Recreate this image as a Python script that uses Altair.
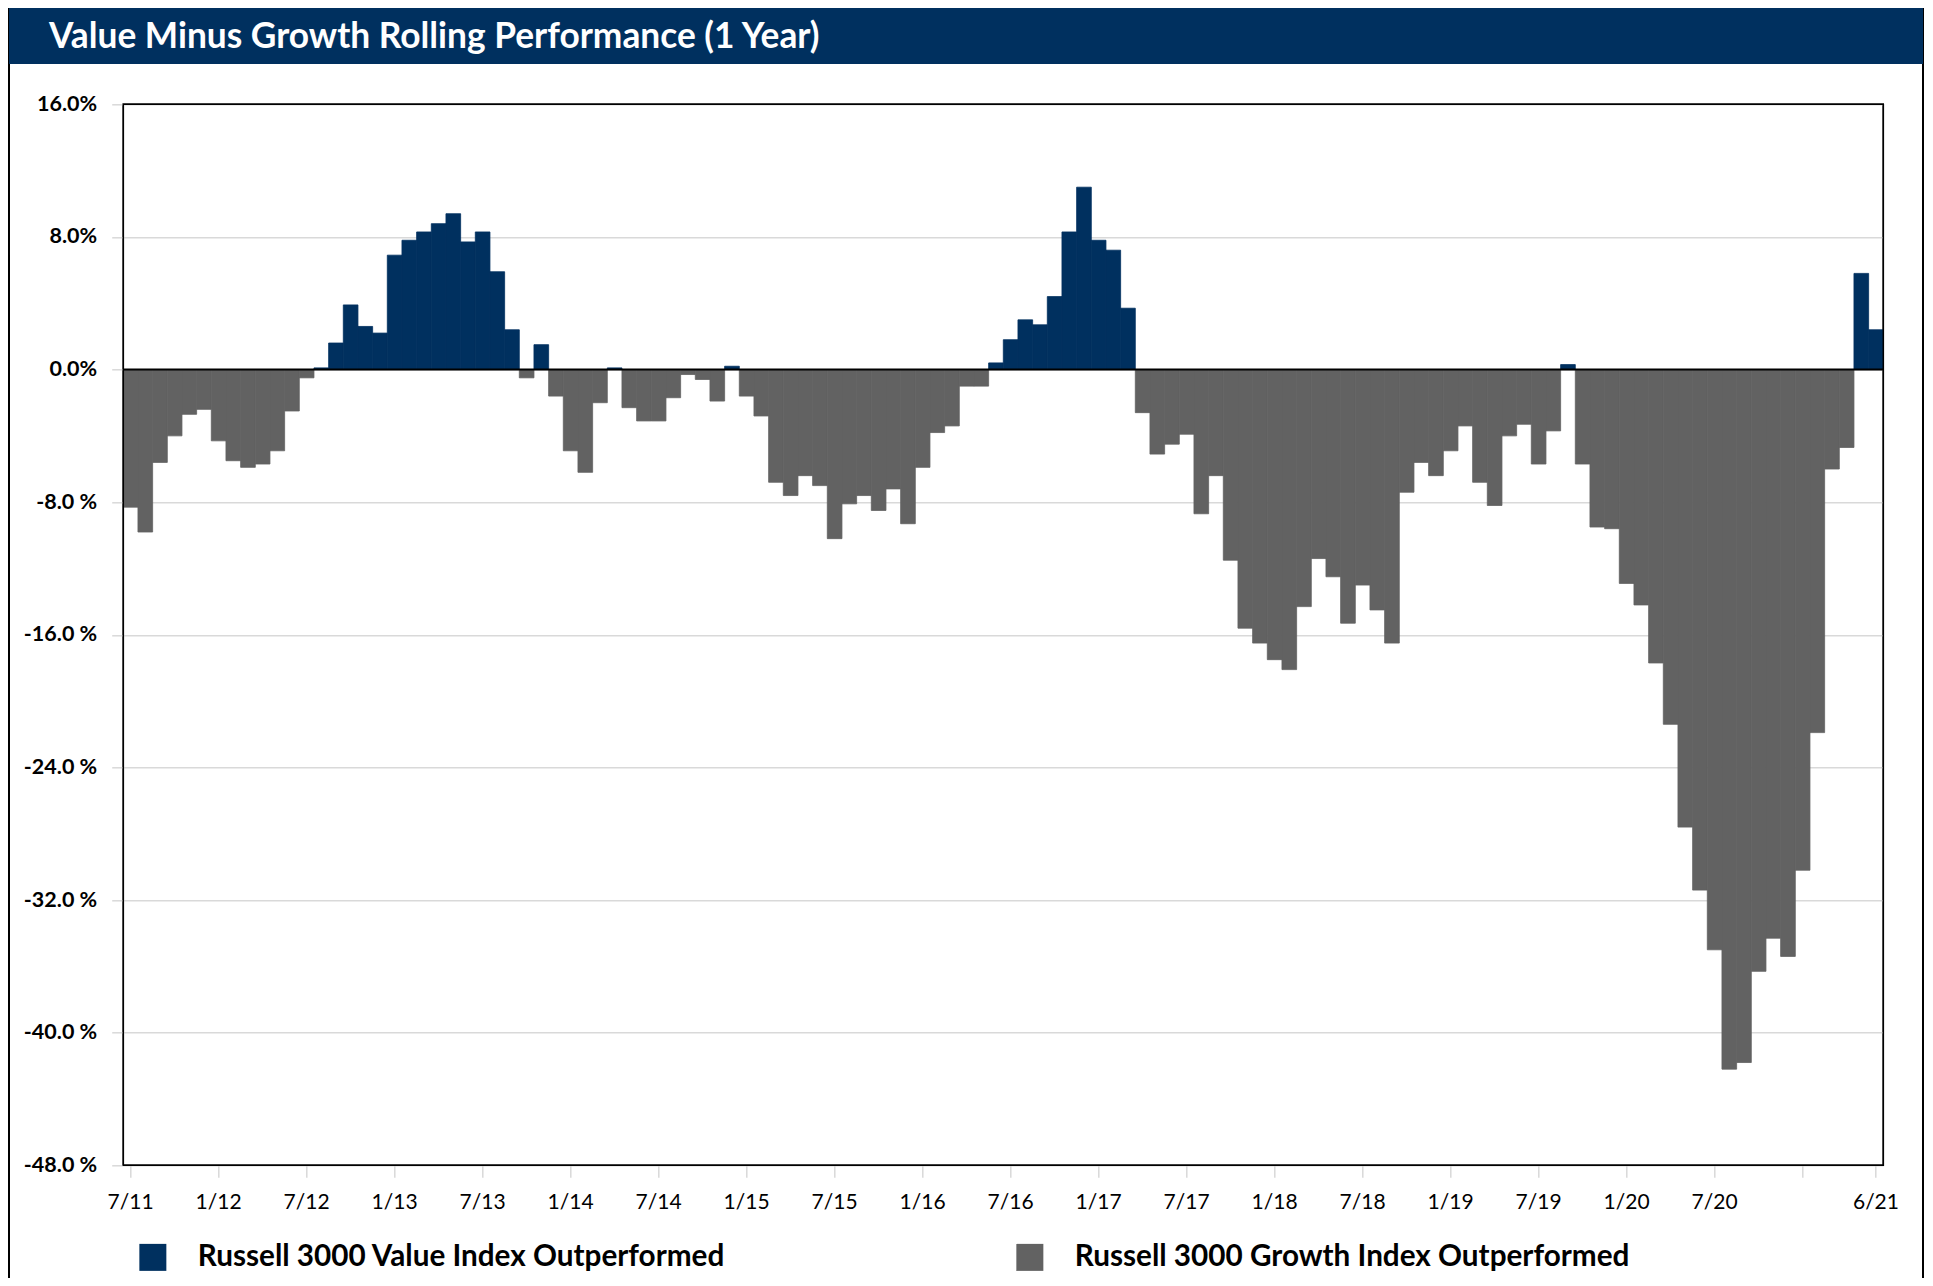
import altair as alt
import pandas as pd

TITLE = "Value Minus Growth Rolling Performance (1 Year)"
VALUE = "Russell 3000 Value Index Outperformed"
GROWTH = "Russell 3000 Growth Index Outperformed"
NAVY = "#00305f"
GRAY = "#626262"
GRID = "#d9d9d9"

# Monthly periods 7/11 ... 6/21
months = [f"{d.month}/{d.year % 100:02d}" for d in pd.date_range("2011-07-01", "2021-06-01", freq="MS")]

# Rolling 1-year value minus growth return (%)
values = [
    -8.3, -9.8, -5.6, -4.0, -2.7, -2.4, -4.3, -5.5, -5.9, -5.7,
    -4.9, -2.5, -0.5, 0.1, 1.6, 3.9, 2.6, 2.2, 6.9, 7.8,
    8.3, 8.8, 9.4, 7.7, 8.3, 5.9, 2.4, -0.5, 1.5, -1.6,
    -4.9, -6.2, -2.0, 0.1, -2.3, -3.1, -3.1, -1.7, -0.3, -0.6,
    -1.9, 0.2, -1.6, -2.8, -6.8, -7.6, -6.4, -7.0, -10.2, -8.1,
    -7.6, -8.5, -7.2, -9.3, -5.9, -3.8, -3.4, -1.0, -1.0, 0.4,
    1.8, 3.0, 2.7, 4.4, 8.3, 11.0, 7.8, 7.2, 3.7, -2.6,
    -5.1, -4.5, -3.9, -8.7, -6.4, -11.5, -15.6, -16.5, -17.5, -18.1,
    -14.3, -11.4, -12.5, -15.3, -13.0, -14.5, -16.5, -7.4, -5.6, -6.4,
    -4.9, -3.4, -6.8, -8.2, -4.0, -3.3, -5.7, -3.7, 0.3, -5.7,
    -9.5, -9.6, -12.9, -14.2, -17.7, -21.4, -27.6, -31.4, -35.0, -42.2,
    -41.8, -36.3, -34.3, -35.4, -30.2, -21.9, -6.0, -4.7, 5.8, 2.4,
]

y_ticks = [16, 8, 0, -8, -16, -24, -32, -40, -48]
x_ticks = months[0::6] + [months[-1]]

df = pd.DataFrame({
    "month": months,
    "value": values,
    "series": [VALUE if v >= 0 else GROWTH for v in values],
})
dummy = pd.DataFrame({"k": [0]})

W, H = 1760, 1061

border = alt.Chart(dummy).mark_rect(filled=False, stroke="black", strokeWidth=2).encode(
    x=alt.value(-114.3), x2=alt.value(1799.7), y=alt.value(-98.3), y2=alt.value(1300)
)
title_bar = alt.Chart(dummy).mark_rect(fill=NAVY).encode(
    x=alt.value(-114.3), x2=alt.value(1799.7), y=alt.value(-98.3), y2=alt.value(-40.3)
)
title_text = alt.Chart(dummy).mark_text(
    text=TITLE, font="Lato", fontWeight="bold", fontSize=35.3, color="white",
    align="left", baseline="middle"
).encode(x=alt.value(-74.3), y=alt.value(-67.3))

color_scale = alt.Scale(domain=[VALUE, GROWTH], range=[NAVY, GRAY])

bars = alt.Chart(df).mark_bar(strokeWidth=0.8).encode(
    x=alt.X(
        "month:N", sort=months,
        scale=alt.Scale(paddingInner=0, paddingOuter=0),
        axis=alt.Axis(
            values=x_ticks, title=None, labelAngle=0, domain=False, grid=False,
            labelExpr="datum.value == '1/21' ? '' : datum.value",
            labelFont="Lato", labelFontSize=21, labelColor="black",
            tickColor=GRID, tickWidth=1.5, tickSize=12, labelPadding=14,
            labelOverlap=False, labelBound=False,
        ),
    ),
    y=alt.Y(
        "value:Q",
        scale=alt.Scale(domain=[-48, 16], nice=False, zero=False),
        axis=alt.Axis(
            values=y_ticks, title=None, domain=False, grid=True,
            gridColor=GRID, gridWidth=1.5,
            labelExpr="datum.value >= 0 ? format(datum.value, '.1f') + '%' : '-' + format(abs(datum.value), '.1f') + ' %'",
            labelFont="Lato", labelFontWeight="bold", labelFontSize=21.5, labelColor="black",
            tickColor=GRID, tickWidth=1.5, tickSize=11.6, labelPadding=15,
        ),
    ),
    color=alt.Color(
        "series:N",
        scale=color_scale,
        legend=alt.Legend(
            title=None, orient="none", legendX=14.7, legendY=1138, direction="horizontal",
            symbolType="square", symbolSize=729, symbolStrokeWidth=0, symbolOpacity=1,
            labelFont="Lato", labelFontWeight="bold", labelFontSize=29.7, labelColor="black",
            labelOffset=30, columnPadding=289, labelLimit=0, padding=0,
        ),
    ),
    stroke=alt.Stroke("series:N", scale=color_scale, legend=None),
)

zero = alt.Chart(dummy).mark_rule(color="black", strokeWidth=2).encode(y=alt.datum(0))

frame = alt.Chart(dummy).mark_rect(filled=False, stroke="black", strokeWidth=1.5).encode(
    x=alt.value(0), x2=alt.value(W), y=alt.value(0), y2=alt.value(H)
)

chart = alt.layer(border, title_bar, title_text, bars, zero, frame).properties(
    width=W, height=H,
    autosize=alt.AutoSizeParams(type="none"),
    padding={"left": 115.3, "top": 96.3, "right": 40.7, "bottom": 112.7},
).configure(
    font="Lato", background="white",
    view=alt.ViewConfig(stroke="black", strokeWidth=1.5),
)

chart.save("out.html", embed_options={"renderer": "svg", "actions": False})
